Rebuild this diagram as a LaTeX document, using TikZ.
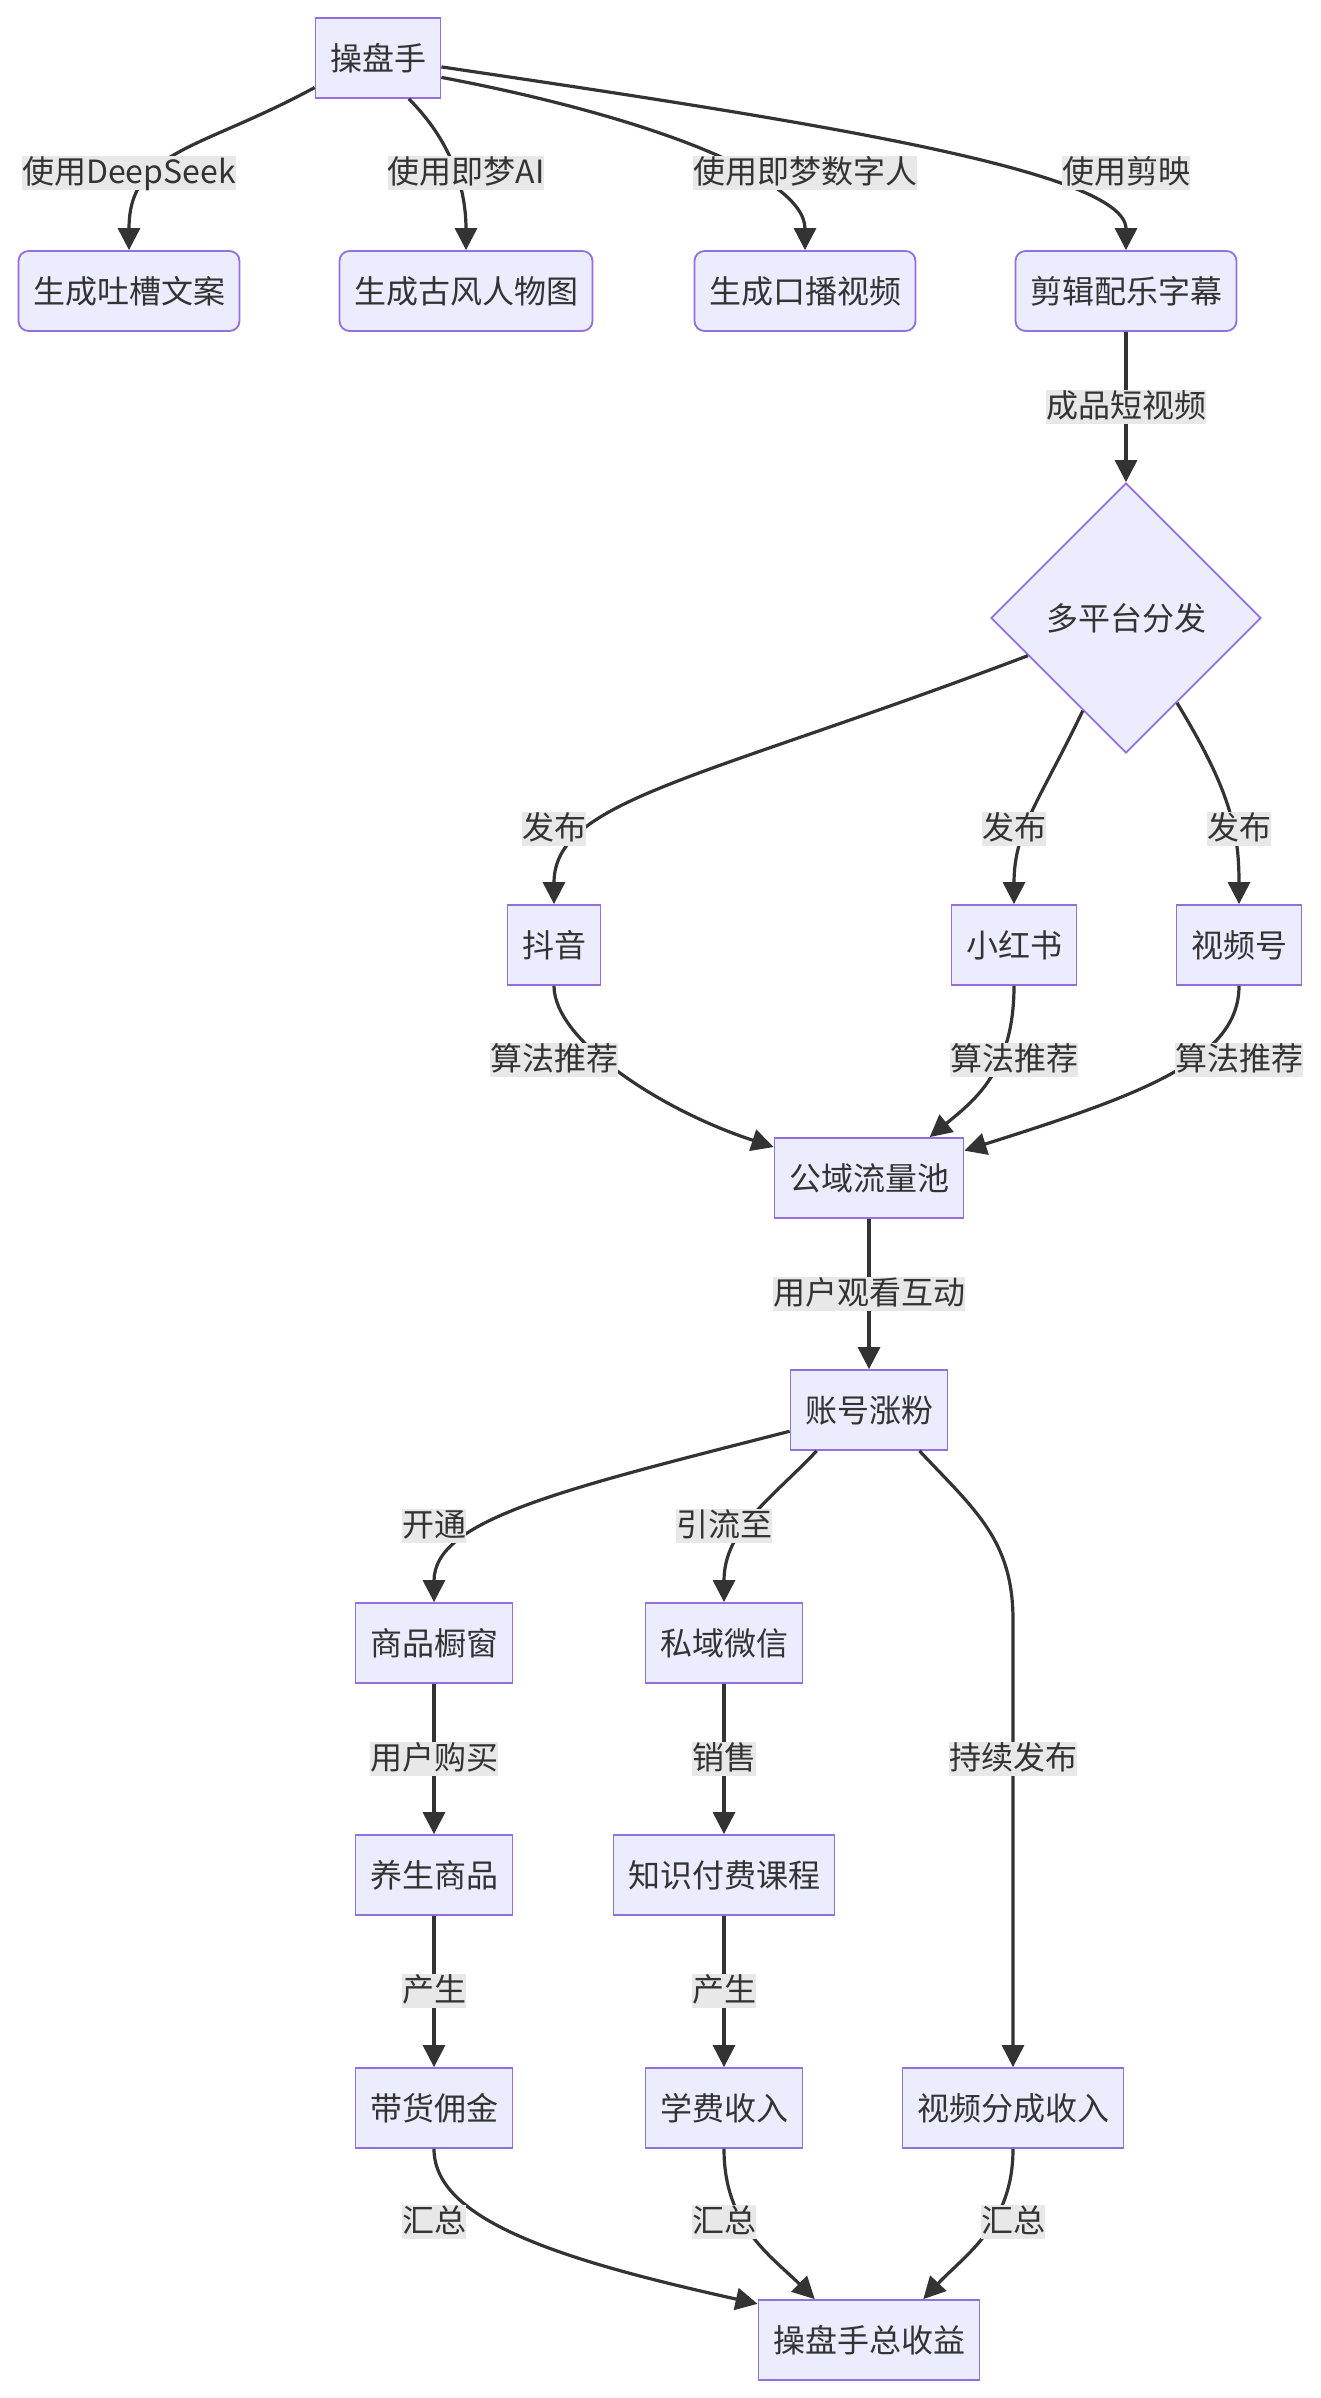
\documentclass[tikz,border=0pt]{standalone}
\usepackage{fontspec}
\setmainfont{Noto Sans CJK SC}
\usetikzlibrary{shapes.geometric,arrows.meta}
\definecolor{nodefill}{HTML}{ECECFF}
\definecolor{nodeline}{HTML}{9370DB}
\definecolor{edgecol}{HTML}{333333}
\definecolor{lblbg}{HTML}{E8E8E8}
\begin{document}
\begin{tikzpicture}[x=1pt,y=1pt,
  font=\fontsize{32}{38}\selectfont, text=edgecol,
  box/.style={draw=nodeline, fill=nodefill, line width=1.8pt, minimum height=80pt, inner xsep=14.5pt, inner ysep=0pt},
  rbox/.style={box, rounded corners=10pt},
  dbox/.style={diamond, draw=nodeline, fill=nodefill, line width=1.8pt, minimum width=270pt, minimum height=270pt, inner sep=0pt},
  lbl/.style={fill=lblbg, inner sep=0pt, text height=27pt, text depth=7pt},
  conn/.style={draw=edgecol, line width=3.2pt, -{Triangle[length=22pt,width=22pt]}}]
\useasboundingbox (0,0) rectangle (1320,-2398);
\fill[white] (0,0) rectangle (1320,-2398);

% nodes
\node[box]  (A) at (378,-58)   {操盘手};
\node[rbox] (B) at (129,-291)  {生成吐槽文案};
\node[rbox] (C) at (466,-291)  {生成古风人物图};
\node[rbox] (D) at (805,-291)  {生成口播视频};
\node[rbox] (E) at (1126,-291) {剪辑配乐字幕};
\node[dbox] (F) at (1126,-618) {多平台分发};
\node[box]  (G) at (554,-945)  {抖音};
\node[box]  (H) at (1014,-945) {小红书};
\node[box]  (I) at (1239,-945) {视频号};
\node[box]  (J) at (869,-1178) {公域流量池};
\node[box]  (K) at (869,-1410) {账号涨粉};
\node[box]  (L) at (434,-1643) {商品橱窗};
\node[box]  (M) at (724,-1643) {私域微信};
\node[box]  (N) at (434,-1875) {养生商品};
\node[box]  (O) at (724,-1875) {知识付费课程};
\node[box]  (P) at (434,-2108) {带货佣金};
\node[box]  (Q) at (724,-2108) {学费收入};
\node[box]  (R) at (1013,-2108) {视频分成收入};
\node[box]  (S) at (869,-2340) {操盘手总收益};

% connectors
\draw[conn] (A.205) .. controls (200,-150) and (129,-150) .. (B.north);
\draw[conn] (A.-53) .. controls (445,-135) and (466,-180) .. (C.north);
\draw[conn] (A.-17) .. controls (640,-115) and (805,-175) .. (D.north);
\draw[conn] (A.-8) .. controls (800,-120) and (1126,-170) .. (E.north);
\draw[conn] (E.south) -- (F.north);
\draw[conn] (F.201) .. controls (700,-780) and (554,-800) .. (G.north);
\draw[conn] (F.245) .. controls (1040,-800) and (1014,-830) .. (H.north);
\draw[conn] (F.-59) .. controls (1230,-790) and (1239,-830) .. (I.north);
\draw[conn] (G.south) .. controls (554,-1040) and (660,-1110) .. (J.162);
\draw[conn] (H.south) .. controls (1014,-1070) and (975,-1100) .. (J.34);
\draw[conn] (I.south) .. controls (1239,-1060) and (1140,-1095) .. (J.16);
\draw[conn] (J.south) -- (K.north);
\draw[conn] (K.195) .. controls (560,-1490) and (434,-1520) .. (L.north);
\draw[conn] (K.218) .. controls (770,-1500) and (724,-1530) .. (M.north);
\draw[conn] (K.-39) .. controls (975,-1510) and (1013,-1540) .. (1013,-1620) -- (R.north);
\draw[conn] (L.south) -- (N.north);
\draw[conn] (N.south) -- (P.north);
\draw[conn] (M.south) -- (O.north);
\draw[conn] (O.south) -- (Q.north);
\draw[conn] (P.south) .. controls (434,-2220) and (560,-2260) .. (S.162);
\draw[conn] (Q.south) .. controls (724,-2225) and (770,-2255) .. (S.143.5);
\draw[conn] (R.south) .. controls (1013,-2225) and (965,-2255) .. (S.37);

% labels
\node[lbl] (l1) at (129,-173) {使用DeepSeek};
\node[lbl] (l2) at (466,-173) {使用即梦AI};
\node[lbl] (l3) at (805,-173) {使用即梦数字人};
\node[lbl] (l4) at (1126,-173) {使用剪映};
\node[lbl] (l5) at (1126,-407) {成品短视频};
\node[lbl] (l6) at (554,-829) {发布};
\node[lbl] (l7) at (1014,-829) {发布};
\node[lbl] (l8) at (1239,-829) {发布};
\node[lbl] (l9) at (554,-1060) {算法推荐};
\node[lbl] (l10) at (1014,-1060) {算法推荐};
\node[lbl] (l11) at (1239,-1060) {算法推荐};
\node[lbl] (l12) at (869,-1294) {用户观看互动};
\node[lbl] (l13) at (434,-1526) {开通};
\node[lbl] (l14) at (724,-1526) {引流至};
\node[lbl] (l15) at (434,-1759) {用户购买};
\node[lbl] (l16) at (724,-1759) {销售};
\node[lbl] (l17) at (1013,-1759) {持续发布};
\node[lbl] (l18) at (434,-1991) {产生};
\node[lbl] (l19) at (724,-1991) {产生};
\node[lbl] (l20) at (434,-2222) {汇总};
\node[lbl] (l21) at (724,-2222) {汇总};
\node[lbl] (l22) at (1013,-2222) {汇总};
\end{tikzpicture}
\end{document}
